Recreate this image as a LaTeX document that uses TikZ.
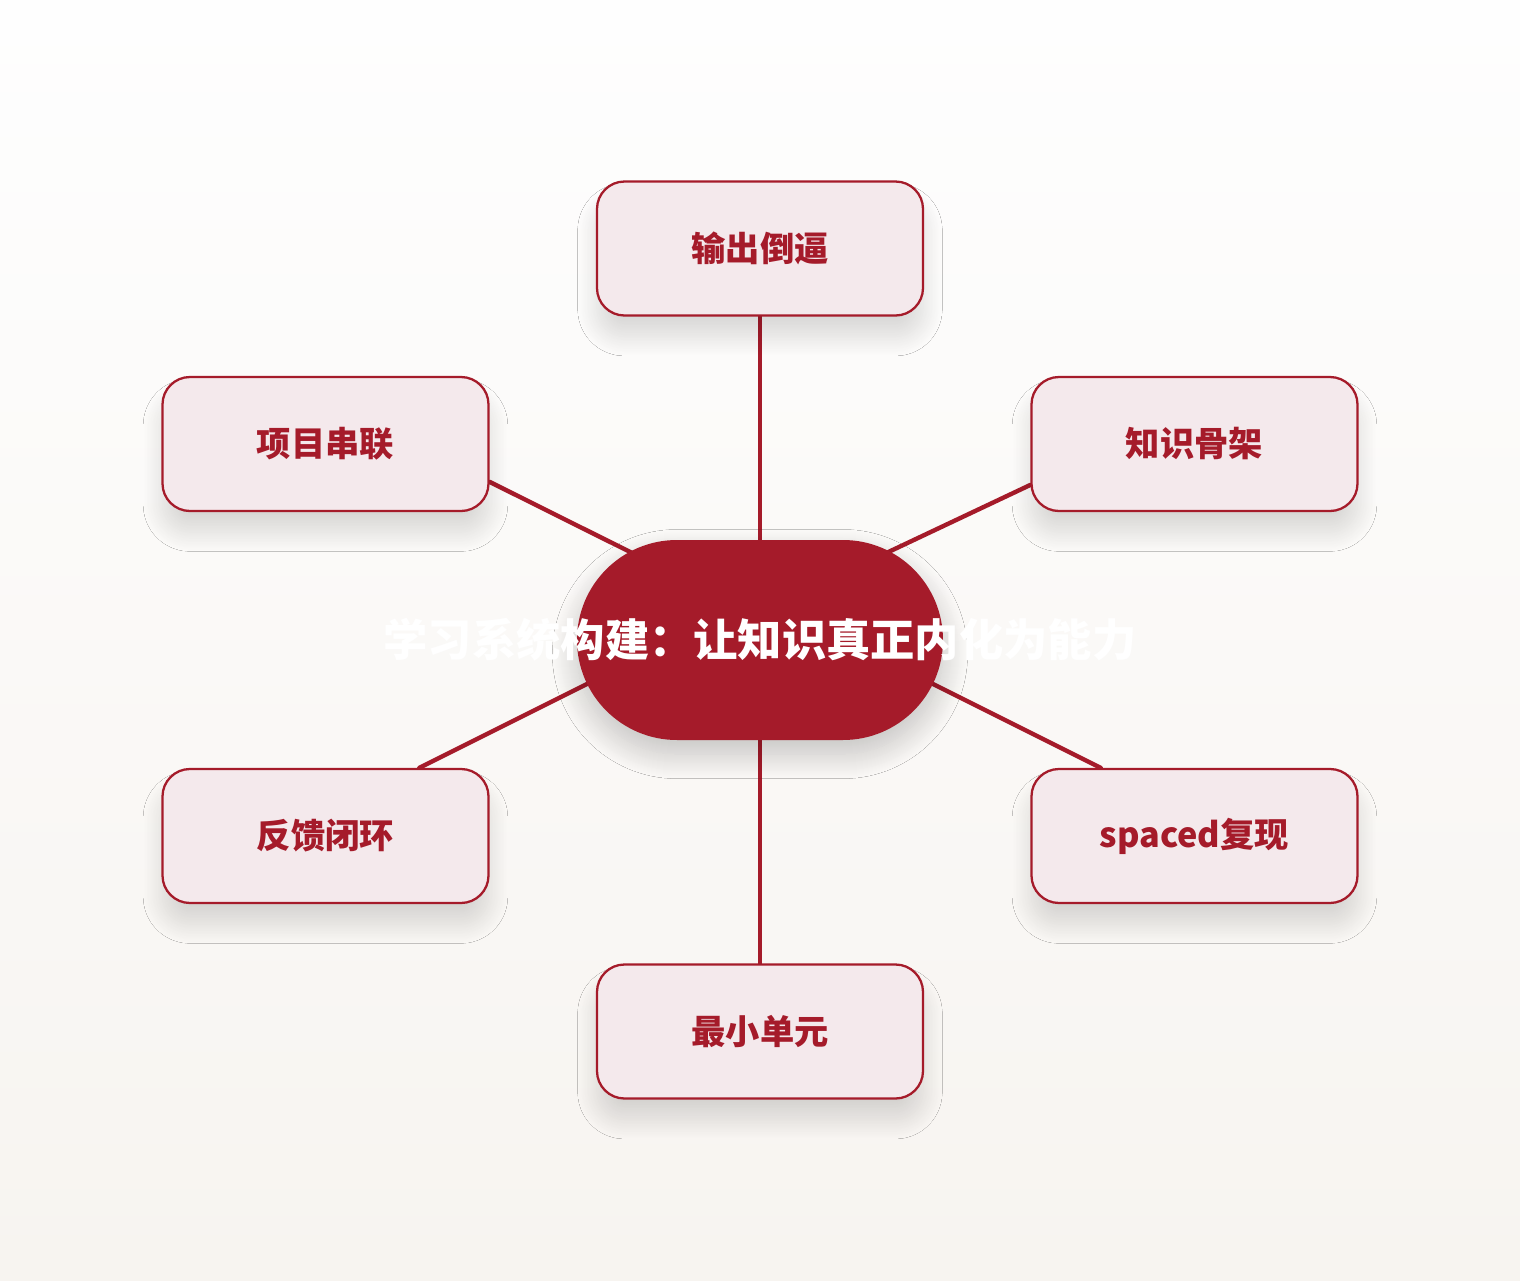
\documentclass[tikz,border=0pt]{standalone}
\usepackage{fontspec}
\newfontfamily\cjk{Noto Sans CJK SC}
\usetikzlibrary{positioning, backgrounds, shadows.blur}
\definecolor{hubcolor}{RGB}{165, 27, 42}
\definecolor{leafcolor}{RGB}{244, 233, 236}
\definecolor{bgtop}{RGB}{254, 254, 254}
\definecolor{bgbottom}{RGB}{247, 244, 240}

\begin{document}
\begin{tikzpicture}[
    hub/.style={rectangle, fill=hubcolor, rounded corners=2cm, minimum width=7.32cm, minimum height=4cm, inner sep=0pt, text=white, font=\cjk\bfseries\fontsize{25.2pt}{30pt}\selectfont, blur shadow={shadow xshift=0pt, shadow yshift=-8pt, shadow blur radius=14pt, shadow blur steps=25, shadow opacity=22}},
    leaf/.style={rectangle, draw=hubcolor, fill=leafcolor, line width=1.3pt, rounded corners=0.55cm, minimum width=6.52cm, minimum height=2.68cm, inner sep=0pt, text=hubcolor, font=\cjk\bfseries\fontsize{19.5pt}{24pt}\selectfont, blur shadow={shadow xshift=0pt, shadow yshift=-12pt, shadow blur radius=11pt, shadow blur steps=25, shadow opacity=14}},
    link/.style={hubcolor, line width=2.5pt, line cap=round, shorten >=-1.2cm}
]

% ========== HUB ==========
\node[hub] (hub) at (0,0) {\makebox[0pt]{学习系统构建：让知识真正内化为能力}};

% ========== LEAVES ==========
\node[leaf, above=4.46cm of hub] (output) {输出倒逼};
\node[leaf, above left=0.55cm and 1.74cm of hub] (project) {项目串联};
\node[leaf, above right=0.55cm and 1.74cm of hub] (skeleton) {知识骨架};
\node[leaf, below left=0.55cm and 1.74cm of hub] (feedback) {反馈闭环};
\node[leaf, below right=0.55cm and 1.74cm of hub] (spaced) {spaced复现};
\node[leaf, below=4.46cm of hub] (unit) {最小单元};

% ========== BACKGROUND + LINKS ==========
\begin{scope}[on background layer]
\fill[top color=bgtop, bottom color=bgbottom] (-15.2,-12.8) rectangle (15.2,12.8);

\draw[link] (output.south) -- (hub.north);
\draw[link] (project.-13) -- (hub.147);
\draw[link] (skeleton.194) -- (hub.33);
\draw[link] (feedback.36) -- (hub.195);
\draw[link] (spaced.144) -- (hub.-15);
\draw[link] (unit.north) -- (hub.south);
\end{scope}

\end{tikzpicture}
\end{document}
